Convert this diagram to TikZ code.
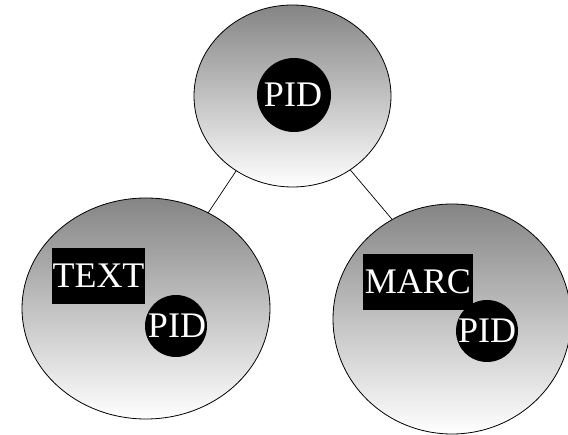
\documentclass[tikz,border=0pt]{standalone}
\usepackage{fontspec}
\setmainfont{Liberation Serif}
\usetikzlibrary{shapes.geometric}
\tikzset{
  bigoval/.style={ellipse, draw=black, line width=0.8pt, inner sep=0pt, outer sep=0pt,
    top color=black!48, bottom color=white},
  pidcirc/.style={circle, fill=black, inner sep=0pt, outer sep=0pt},
  pidtext/.style={text=white, inner sep=0pt, font=\fontsize{36}{40}\selectfont},
  labelbox/.style={fill=black, text=white, inner sep=0pt, minimum height=56pt,
    font=\fontsize{36}{40}\selectfont},
  link/.style={draw=black, line width=0.7pt}
}
\begin{document}
\begin{tikzpicture}[x=1pt,y=-1pt]
\useasboundingbox (0,0) rectangle (568,435);
\node[bigoval, minimum width=197pt, minimum height=182pt] (top) at (292.5,96) {};
\node[bigoval, minimum width=248pt, minimum height=221pt] (left) at (146,308.5) {};
\node[bigoval, minimum width=238pt, minimum height=230pt] (right) at (452,319) {};
\draw[link] (top.-127.7) -- (left.57.8);
\draw[link] (top.-52.8) -- (right.121.3);
\node[pidcirc, minimum size=74pt] (tc) at (294,95) {};
\node[pidtext] (tt) at (293,95) {PID};
\node[labelbox, minimum width=93pt] (lbl) at (98.5,276) {TEXT};
\node[pidcirc, minimum size=62pt] (lc) at (176,326) {};
\node[pidtext] (lt) at (177,326) {PID};
\node[labelbox, minimum width=110pt] (rbl) at (418,282) {MARC};
\node[pidcirc, minimum size=62pt] (rc) at (487,331) {};
\node[pidtext] (rt) at (487,330.5) {PID};
\end{tikzpicture}
\end{document}
